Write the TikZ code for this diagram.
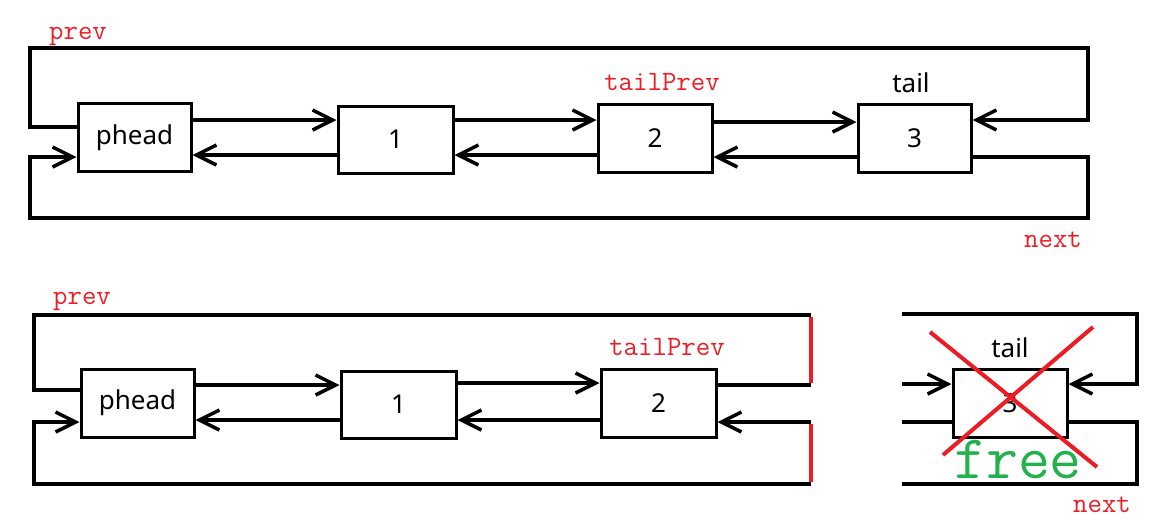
\documentclass[tikz,border=0pt]{standalone}
\usepackage{fontspec}
\setsansfont{Noto Sans}
\usetikzlibrary{arrows.meta}
\definecolor{pred}{RGB}{237,28,36}
\definecolor{pgreen}{RGB}{34,177,76}
\begin{document}
\begin{tikzpicture}[x=1pt,y=-1pt,
  box/.style={draw=black,line width=3pt,minimum width=113pt,minimum height=68pt,inner sep=0pt,font=\sffamily\fontsize{26}{30}\selectfont},
  wire/.style={line width=3.5pt},
  arr/.style={wire,-{Straight Barb[length=20pt,width=20pt]}},
  redlbl/.style={text=pred,font=\ttfamily\fontsize{28}{30}\selectfont,anchor=base},
  blklbl/.style={font=\sffamily\fontsize{26}{30}\selectfont,anchor=base},
  redline/.style={draw=pred,line width=3.5pt},
  cross/.style={draw=pred,line width=4pt}]
\useasboundingbox (0,0) rectangle (1175,531);

% ---------- top diagram ----------
\node[box] (a0) at (134.5,137.5) {phead};
\node[box,minimum width=115pt,minimum height=67pt] (a1) at (395.5,139.5) {1};
\node[box,minimum width=114pt] (a2) at (655,138) {2};
\node[box] (a3) at (914.5,138) {3};

\node[redlbl] (tprev) at (78,39) {prev};
\node[redlbl] (ttp) at (662,90) {tailPrev};
\node[blklbl] (ttail) at (911,92) {tail};
\node[redlbl] (tnext) at (1053,247) {next};

\coordinate (y120) at (0,120);
\coordinate (y122) at (0,122);
\coordinate (y127) at (0,127);
\coordinate (y155) at (0,155);
\coordinate (y157) at (0,157);
\coordinate (tl) at (30,48);
\coordinate (tr) at (1088,48);
\coordinate (bl) at (30,218);
\coordinate (br) at (1088,218);

\draw[arr] (a0.east |- y120) -- (a1.west |- y120);
\draw[arr] (a1.west |- y155) -- (a0.east |- y155);
\draw[arr] (a1.east |- y120) -- (a2.west |- y120);
\draw[arr] (a2.west |- y155) -- (a1.east |- y155);
\draw[arr] (a2.east |- y122) -- (a3.west |- y122);
\draw[arr] (a3.west |- y157) -- (a2.east |- y157);

\draw[arr] (a0.west |- y127) -- (tl |- y127) -- (tl) -- (tr) -- (tr |- y120) -- (a3.east |- y120);
\draw[arr] (a3.east |- y157) -- (br |- y157) -- (br) -- (bl) -- (bl |- y157) -- (a0.west |- y157);

% ---------- bottom-left diagram ----------
\node[box] (b0) at (137.5,403) {phead};
\node[box,minimum width=115pt,minimum height=67pt] (b1) at (398.5,404.5) {1};
\node[box,minimum width=115pt] (b2) at (658.5,403) {2};

\node[redlbl] (bprev) at (82,304) {prev};
\node[redlbl] (btp) at (667,355) {tailPrev};

\coordinate (z383) at (0,383);
\coordinate (z385) at (0,385);
\coordinate (z390) at (0,390);
\coordinate (z420) at (0,420);
\coordinate (z422) at (0,422);
\coordinate (btl) at (34,315);
\coordinate (btr) at (811,315);
\coordinate (bbl) at (34,484);
\coordinate (bbr) at (811,484);

\draw[arr] (b0.east |- z385) -- (b1.west |- z385);
\draw[arr] (b1.west |- z420) -- (b0.east |- z420);
\draw[arr] (b1.east |- z383) -- (b2.west |- z383);
\draw[arr] (b2.west |- z420) -- (b1.east |- z420);

\draw[wire] (b0.west |- z390) -- (btl |- z390) -- (btl) -- (btr);
\draw[wire] (b2.east |- z385) -- (btr |- z385);
\draw[arr] (btr |- z422) -- (b2.east |- z422);
\draw[arr] (bbr) -- (bbl) -- (bbl |- z422) -- (b0.west |- z422);
\draw[redline] ([yshift=-1.75pt]btr) -- ([yshift=1.75pt]btr |- z385);
\draw[redline] ([yshift=-1.75pt]btr |- z422) -- ([yshift=1.75pt]bbr);

% ---------- bottom-right diagram ----------
\node[box,minimum width=114pt] (c3) at (1010,403) {3};
\node[blklbl] (ctail) at (1010,357) {tail};
\node[redlbl] (cnext) at (1102,512) {next};

\coordinate (ctl) at (902,314);
\coordinate (ctr) at (1137,314);
\coordinate (cbl) at (902,484);
\coordinate (cbr) at (1137,484);
\coordinate (z384) at (0,384);

\draw[arr] (ctl) -- (ctr) -- (ctr |- z384) -- (c3.east |- z384);
\draw[arr] (ctl |- z384) -- (c3.west |- z384);
\draw[wire] (ctl |- z422) -- (c3.west |- z422);
\draw[wire] (c3.east |- z422) -- (cbr |- z422) -- (cbr) -- (cbl);

\coordinate (x1) at (930,332);
\coordinate (x2) at (1097,467);
\coordinate (x3) at (943,455);
\coordinate (x4) at (1093,327);
\draw[cross] (x1) -- (x2);
\draw[cross] (x3) -- (x4);

\node[text=pgreen,font=\ttfamily\fontsize{62}{64}\selectfont,anchor=base] (free) at (1018,478) {free};
\end{tikzpicture}
\end{document}
